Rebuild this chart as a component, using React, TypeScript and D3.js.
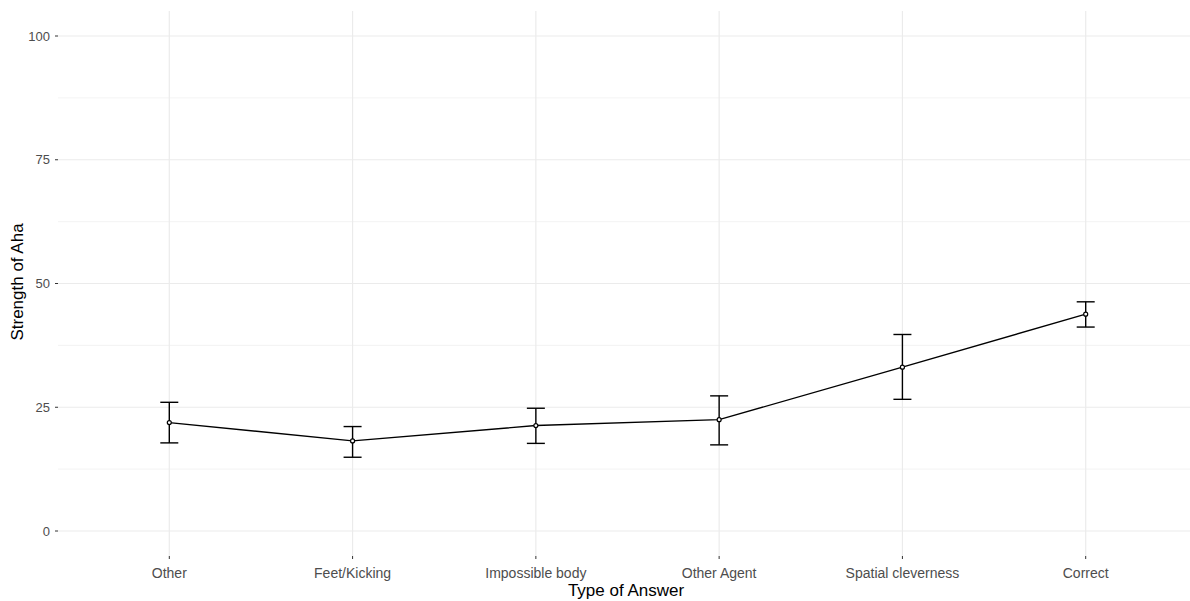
import React from "react"
import * as d3 from "d3"

const categories = ["Other", "Feet/Kicking", "Impossible body", "Other Agent", "Spatial cleverness", "Correct"]
const means = [21.9, 18.2, 21.3, 22.5, 33.1, 43.8]
const upper = [26.0, 21.1, 24.8, 27.3, 39.7, 46.3]
const lower = [17.8, 14.9, 17.7, 17.4, 26.6, 41.2]
const yTicks = [0, 25, 50, 75, 100]
const yMinor = [12.5, 37.5, 62.5, 87.5]

const W = 1190
const H = 601
const panelLeft = 58
const panelRight = 1190
const panelTop = 11
const panelBottom = 556

const App = () => {
  const x = d3.scalePoint<string>().domain(categories).range([169.3, 1085.7])
  const y = d3.scaleLinear().domain([0, 100]).range([531, 36])

  const data = categories.map((c, i) => ({ c, m: means[i], hi: upper[i], lo: lower[i] }))
  const line = d3
    .line<{ c: string; m: number }>()
    .x(d => x(d.c) as number)
    .y(d => y(d.m))

  const font = "'Liberation Sans', Arial, sans-serif"
  const cap = 9

  return (
    <svg width={W} height={H} style={{ position: "absolute", left: 0, top: 0 }} fontFamily={font}>
      <rect width={W} height={H} fill="#fff" />
      {yMinor.map(t => (
        <line key={"m" + t} x1={panelLeft} x2={panelRight} y1={y(t)} y2={y(t)} stroke="#F0F0F0" strokeWidth={0.8} />
      ))}
      {yTicks.map(t => (
        <line key={"g" + t} x1={panelLeft} x2={panelRight} y1={y(t)} y2={y(t)} stroke="#EBEBEB" strokeWidth={1.2} />
      ))}
      {categories.map(c => (
        <line key={"v" + c} x1={x(c)} x2={x(c)} y1={panelTop} y2={panelBottom} stroke="#EBEBEB" strokeWidth={1.2} />
      ))}

      {yTicks.map(t => (
        <g key={"t" + t}>
          <line x1={55} x2={58} y1={y(t)} y2={y(t)} stroke="#333" strokeWidth={1} />
          <text x={50} y={y(t)} dy="0.35em" textAnchor="end" fontSize={13} fill="#4D4D4D">
            {t}
          </text>
        </g>
      ))}
      {categories.map(c => (
        <g key={"xt" + c}>
          <line x1={x(c)} x2={x(c)} y1={556} y2={559} stroke="#333" strokeWidth={1} />
          <text x={x(c)} y={578} textAnchor="middle" fontSize={14} fill="#4D4D4D">
            {c}
          </text>
        </g>
      ))}

      <path d={line(data) || ""} fill="none" stroke="#000" strokeWidth={1.4} />
      {data.map(d => {
        const cx = x(d.c) as number
        return (
          <g key={"e" + d.c} stroke="#000" strokeWidth={1.4}>
            <line x1={cx} x2={cx} y1={y(d.hi)} y2={y(d.lo)} />
            <line x1={cx - cap} x2={cx + cap} y1={y(d.hi)} y2={y(d.hi)} />
            <line x1={cx - cap} x2={cx + cap} y1={y(d.lo)} y2={y(d.lo)} />
            <circle cx={cx} cy={y(d.m)} r={2} fill="#fff" strokeWidth={1.2} />
          </g>
        )
      })}

      <text x={626} y={596} textAnchor="middle" fontSize={17} fill="#000">
        Type of Answer
      </text>
      <text transform={`translate(23,${282}) rotate(-90)`} textAnchor="middle" fontSize={17} fill="#000">
        Strength of Aha
      </text>
    </svg>
  )
}

export default App
